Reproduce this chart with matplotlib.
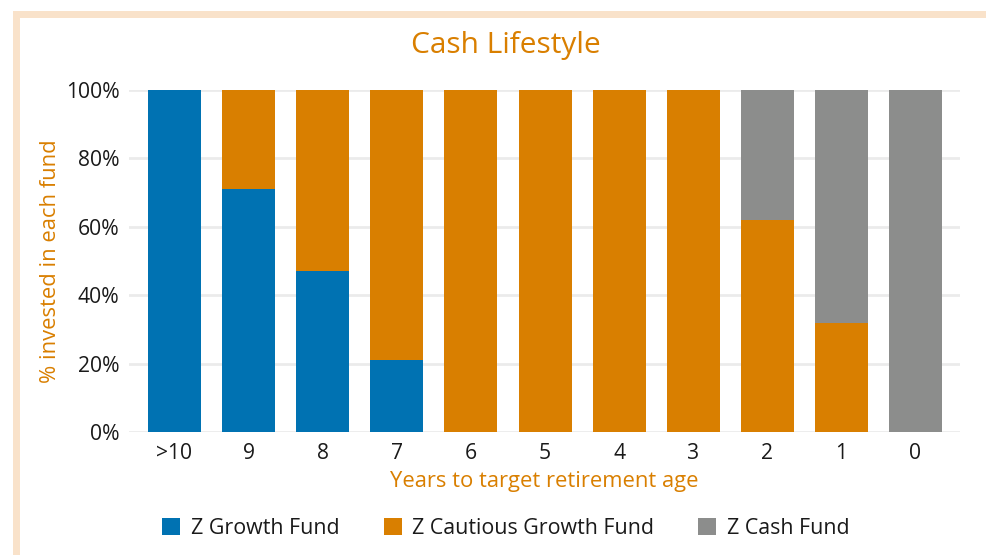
import matplotlib
matplotlib.use("Agg")
import matplotlib.pyplot as plt
from matplotlib.patches import Rectangle, Patch
import numpy as np

plt.rcParams['font.family'] = ['Open Sans', 'DejaVu Sans']

categories = [">10", "9", "8", "7", "6", "5", "4", "3", "2", "1", "0"]
growth = [100, 71, 47, 21, 0, 0, 0, 0, 0, 0, 0]
cautious = [0, 29, 53, 79, 100, 100, 100, 100, 62, 32, 0]
cash = [0, 0, 0, 0, 0, 0, 0, 0, 38, 68, 100]
series_names = ["Z Growth Fund", "Z Cautious Growth Fund", "Z Cash Fund"]
colors = ["#0072B2", "#D97F00", "#8C8D8C"]
orange = "#D97F00"
text_col = "#1a1a1a"

W, H = 987, 555
fig = plt.figure(figsize=(W/100, H/100), dpi=100)
fig.patch.set_facecolor("white")

# peach frame
frame_col = "#F9E2CA"
fig.patches.append(Rectangle((13/W, 1-18/H), 1-13/W, 7/H, transform=fig.transFigure,
                             facecolor=frame_col, edgecolor='none', zorder=0))
fig.patches.append(Rectangle((13/W, 0), 7/W, 1-11/H, transform=fig.transFigure,
                             facecolor=frame_col, edgecolor='none', zorder=0))

ax = fig.add_axes([129/W, 1-432/H, (960-129)/W, (432-90)/H])
x = np.arange(len(categories))
bw = 0.715
g = np.array(growth); c = np.array(cautious); k = np.array(cash)
ax.bar(x, g, bw, color=colors[0], label=series_names[0], zorder=3)
ax.bar(x, c, bw, bottom=g, color=colors[1], label=series_names[1], zorder=3)
ax.bar(x, k, bw, bottom=g + c, color=colors[2], label=series_names[2], zorder=3)

ax.set_xlim(-0.614, len(categories) - 1 + 0.6)
ax.set_ylim(0, 100)
ax.set_yticks([0, 20, 40, 60, 80, 100])
ax.set_yticklabels([f"{v}%" for v in [0, 20, 40, 60, 80, 100]])
ax.set_xticks(x)
ax.set_xticklabels(categories)
ax.tick_params(axis='both', length=0, labelsize=15.2, colors=text_col)
ax.tick_params(axis='y', pad=7)
ax.tick_params(axis='x', pad=8)
ax.grid(axis='y', color="#EBEBEB", linewidth=2)
ax.set_axisbelow(True)
for s in ax.spines.values():
    s.set_visible(False)

ax.set_xlabel("Years to target retirement age", color=orange, fontsize=15.8, labelpad=5)
ax.set_ylabel("% invested in each fund", color=orange, fontsize=15.8, labelpad=3)
fig.text(506/W, 1-46/H, "Cash Lifestyle", color=orange, fontsize=21.5, ha='center', va='center')

handles = [Patch(facecolor=colors[i], edgecolor='none') for i in range(3)]
fig.legend(handles, series_names, loc='center', bbox_to_anchor=(506/W, 1-528/H), ncol=3,
           frameon=False, fontsize=15.4, handlelength=0.85, handleheight=0.85,
           handletextpad=0.5, columnspacing=2.05, labelcolor=text_col)

fig.savefig("out.png", dpi=100, facecolor="white")
